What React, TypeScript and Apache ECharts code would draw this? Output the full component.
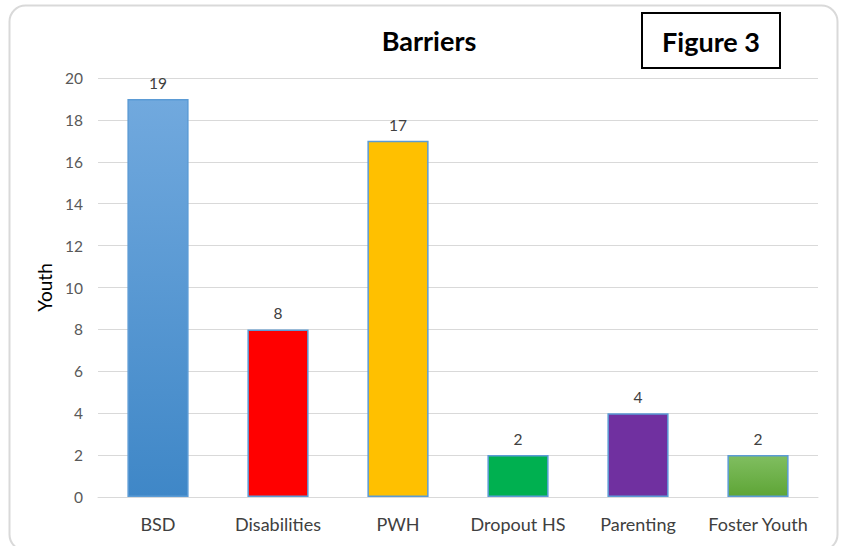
import React, { useEffect, useRef } from "react";
import * as echarts from "echarts";

const categories = ["BSD", "Disabilities", "PWH", "Dropout HS", "Parenting", "Foster Youth"];
const values = [19, 8, 17, 2, 4, 2];
const barColors: any[] = [
  { type: "linear", x: 0, y: 0, x2: 0, y2: 1, colorStops: [{ offset: 0, color: "#71A9DE" }, { offset: 1, color: "#3F87C7" }] },
  "#FF0000",
  "#FFC000",
  "#00B050",
  "#7030A0",
  { type: "linear", x: 0, y: 0, x2: 0, y2: 1, colorStops: [{ offset: 0, color: "#80BE60" }, { offset: 1, color: "#5EA536" }] },
];
const yTicks = { min: 0, max: 20, interval: 2 };

export default function App() {
  const ref = useRef<HTMLDivElement>(null);
  useEffect(() => {
    const chart = echarts.init(ref.current!, undefined, { renderer: "svg" });
    const font = "Lato, 'Liberation Sans', sans-serif";
    chart.setOption({
      animation: false,
      backgroundColor: "#ffffff",
      textStyle: { fontFamily: font },
      title: {
        text: "Barriers",
        left: 424,
        top: 22,
        textAlign: "center",
        textStyle: { fontFamily: font, fontSize: 27, fontWeight: "bold", color: "#000000" },
      },
      graphic: [
        {
          type: "rect",
          shape: { x: 9.5, y: 5.5, width: 828, height: 545, r: 16 },
          style: { fill: "none", stroke: "#D9D9D9", lineWidth: 2 },
          silent: true,
          z: -1,
        },
        {
          type: "rect",
          shape: { x: 642, y: 13, width: 138, height: 55 },
          style: { fill: "#ffffff", stroke: "#000000", lineWidth: 2 },
          z: 10,
        },
        {
          type: "text",
          x: 711,
          y: 41,
          style: { text: "Figure 3", fontFamily: font, fontSize: 27, fontWeight: "bold", fill: "#000000", align: "center", verticalAlign: "middle" },
          z: 11,
        },
      ],
      grid: { left: 98, right: 23, top: 78, bottom: 49, containLabel: false },
      xAxis: {
        type: "category",
        data: categories,
        axisLine: { show: true, lineStyle: { color: "#D9D9D9", width: 1 } },
        axisTick: { show: false },
        axisLabel: { color: "#404040", fontSize: 18, margin: 18, fontFamily: font, interval: 0, hideOverlap: false },
      },
      yAxis: {
        type: "value",
        min: yTicks.min,
        max: yTicks.max,
        interval: yTicks.interval,
        name: "Youth",
        nameLocation: "middle",
        nameGap: 42,
        nameRotate: 90,
        nameTextStyle: { color: "#000000", fontSize: 19, fontFamily: font },
        axisLine: { show: false },
        axisTick: { show: false },
        axisLabel: { color: "#595959", fontSize: 15.5, margin: 15, fontFamily: font },
        splitLine: { lineStyle: { color: "#D9D9D9", width: 1 } },
      },
      series: [
        {
          type: "bar",
          data: values.map((v, i) => ({ value: v, itemStyle: { color: barColors[i] } })),
          barWidth: "51%",
          itemStyle: { borderColor: "#5B9BD5", borderWidth: 1.5 },
          label: { show: true, position: "top", distance: 8, color: "#404040", fontSize: 15.5, fontFamily: font },
        },
      ],
    });
    return () => chart.dispose();
  }, []);
  return <div ref={ref} style={{ position: "fixed", left: 0, top: 0, width: 841, height: 546 }} />;
}
